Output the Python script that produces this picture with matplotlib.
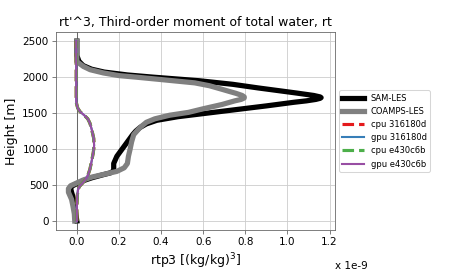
import matplotlib
matplotlib.use("Agg")
import matplotlib.pyplot as plt

# heights [m] and rtp3 values (in units of 1e-9 (kg/kg)^3)
sam_z = [0, 100, 200, 300, 400, 460, 490, 520, 560, 600, 640, 670, 700,
         800, 900, 1000, 1100, 1200, 1250, 1300, 1350, 1400, 1450, 1500,
         1550, 1600, 1650, 1670, 1690, 1705, 1715, 1725, 1745, 1780, 1850,
         1900, 1950, 2000, 2030, 2070, 2110, 2160, 2220, 2300, 2400, 2500]
sam_rtp3 = [0.0, -0.005, -0.01, -0.015, -0.025, -0.03, -0.02, 0.0, 0.03, 0.07,
            0.12, 0.16, 0.175, 0.175, 0.19, 0.215, 0.24, 0.265, 0.28, 0.30,
            0.33, 0.38, 0.48, 0.62, 0.76, 0.90, 1.03, 1.09, 1.135, 1.155,
            1.16, 1.155, 1.125, 1.04, 0.86, 0.74, 0.58, 0.36, 0.24, 0.13,
            0.07, 0.03, 0.01, 0.0, 0.0, 0.0]

coamps_z = [0, 100, 200, 300, 400, 450, 490, 530, 570, 610, 650, 690, 740,
            800, 900, 1000, 1100, 1200, 1300, 1372, 1420, 1470, 1510, 1560,
            1620, 1670, 1690, 1710, 1725, 1745, 1775, 1800, 1830, 1880, 1920,
            1966, 2000, 2021, 2058, 2103, 2150, 2216, 2300, 2400, 2500]
coamps_rtp3 = [-0.01, -0.012, -0.018, -0.025, -0.04, -0.04, -0.03, 0.0, 0.03,
               0.07, 0.13, 0.19, 0.225, 0.24, 0.245, 0.253, 0.26, 0.27, 0.30,
               0.33, 0.37, 0.44, 0.53, 0.60, 0.69, 0.75, 0.78, 0.795, 0.795,
               0.785, 0.755, 0.725, 0.69, 0.63, 0.56, 0.40, 0.28, 0.20, 0.126,
               0.063, 0.03, 0.0, 0.0, 0.0, 0.0]

clubb_z = [0, 200, 350, 430, 480, 520, 570, 640, 720, 830, 950, 1050, 1150,
           1280, 1360, 1420, 1470, 1520, 1570, 1650, 1900, 2200, 2500]
cpu_316180d = [0.0, 0.0, 0.002, 0.005, 0.012, 0.025, 0.04, 0.053, 0.062, 0.07,
               0.078, 0.082, 0.08, 0.07, 0.062, 0.052, 0.035, 0.015, 0.004,
               -0.003, -0.003, -0.003, -0.003]
gpu_316180d = [0.0, 0.0, 0.002, 0.005, 0.012, 0.025, 0.04, 0.053, 0.062, 0.07,
               0.078, 0.082, 0.08, 0.07, 0.062, 0.052, 0.035, 0.015, 0.004,
               -0.003, -0.003, -0.003, -0.003]
cpu_e430c6b = [0.0, 0.0, 0.002, 0.005, 0.012, 0.025, 0.04, 0.053, 0.062, 0.07,
               0.078, 0.082, 0.08, 0.07, 0.062, 0.052, 0.035, 0.015, 0.004,
               -0.003, -0.003, -0.003, -0.003]
gpu_e430c6b = [0.0, 0.0, 0.002, 0.005, 0.012, 0.025, 0.04, 0.053, 0.062, 0.07,
               0.078, 0.082, 0.08, 0.07, 0.062, 0.052, 0.035, 0.015, 0.004,
               -0.003, -0.003, -0.003, -0.003]

fig = plt.figure(figsize=(6, 3.6), dpi=75)
ax = fig.add_axes([0.124, 0.148, 0.62, 0.733])

ax.axvline(0, color='dimgray', lw=1, zorder=1)
ax.plot(sam_rtp3, sam_z, color='black', lw=5, label='SAM-LES', zorder=2)
ax.plot(coamps_rtp3, coamps_z, color='gray', lw=5, label='COAMPS-LES', zorder=3)
ax.plot(cpu_316180d, clubb_z, color='#e41a1c', lw=3, ls='--', label='cpu 316180d', zorder=4)
ax.plot(gpu_316180d, clubb_z, color='#377eb8', lw=2, label='gpu 316180d', zorder=5)
ax.plot(cpu_e430c6b, clubb_z, color='#4daf4a', lw=3, ls='--', label='cpu e430c6b', zorder=6)
ax.plot(gpu_e430c6b, clubb_z, color='#984ea3', lw=2, label='gpu e430c6b', zorder=7)

ax.set_xlim(-0.1, 1.225)
ax.set_ylim(-125, 2625)
ax.grid(True, color='#cccccc', lw=0.8)
ax.set_axisbelow(True)
for s in ax.spines.values():
    s.set_color('dimgray')
ax.tick_params(labelsize=10, color='dimgray')

ax.set_title("rt'^3, Third-order moment of total water, rt", fontsize=12)
ax.set_xlabel(r'rtp3 [(kg/kg)$^3$]', fontsize=12)
ax.set_ylabel('Height [m]', fontsize=12)
ax.text(1.0, -0.155, 'x 1e-9', transform=ax.transAxes, fontsize=10, va='top')

ax.legend(loc='center left', bbox_to_anchor=(1.0, 0.5), fontsize=8, handlelength=2.6)

fig.savefig('out.png', dpi=75)
